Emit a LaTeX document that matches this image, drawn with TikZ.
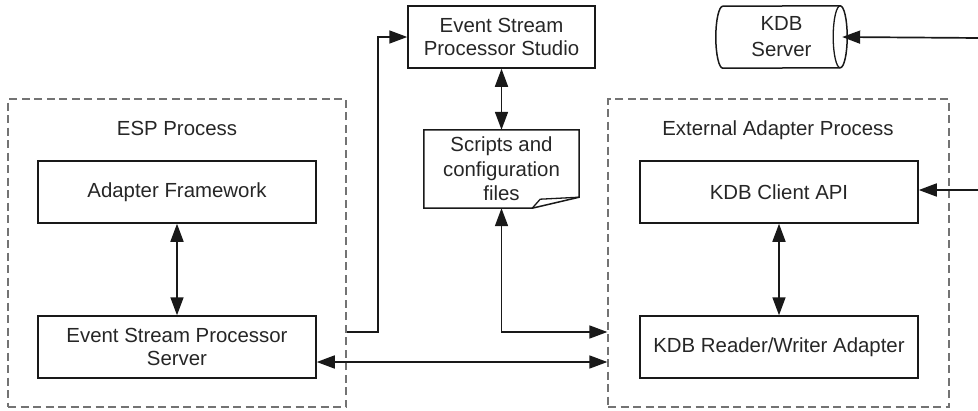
\documentclass[tikz,border=0pt]{standalone}
\usepackage{fontspec}
\setmainfont{Liberation Sans}
\usetikzlibrary{arrows.meta,calc}
\newcommand\diafont{\fontsize{20.4pt}{23.5pt}\selectfont}
\begin{document}
\begin{tikzpicture}[x=1pt,y=-1pt,
  line join=miter,
  box/.style={draw=black!90, line width=1.5pt, minimum width=278pt, minimum height=62pt,
    inner sep=0pt, align=center, font=\diafont, text=black!85},
  grp/.style={draw=black!55, dash pattern=on 8pt off 4.5pt, line width=1.3pt, inner sep=0pt},
  lbl/.style={font=\diafont, text=black!85, inner sep=0pt},
  conn/.style={draw=black!90, line width=1.7pt},
  both/.style={conn, {Triangle[length=18pt,width=13pt]}-{Triangle[length=18pt,width=13pt]}},
  fwd/.style={conn, -{Triangle[length=18pt,width=13pt]}}
]
\useasboundingbox (0,0) rectangle (978,410);

% groups
\node[grp, minimum width=338pt, minimum height=308pt] (esp) at (177,253) {};
\node[grp, minimum width=341pt, minimum height=308pt] (ext) at (778.5,253) {};
\node[lbl, anchor=base] (esplbl) at (177,135) {ESP Process};
\node[lbl, anchor=base] (extlbl) at (778,135) {External Adapter Process};

% boxes
\node[box] (af) at (177,192) {Adapter Framework};
\node[box] (esps) at (177,347) {Event Stream Processor\\Server};
\node[box] (kca) at (779,192) {KDB Client API};
\node[box] (kdbrw) at (779,347) {KDB Reader/Writer Adapter};
\node[box, minimum width=187pt] (studio) at (501.5,37) {Event Stream\\Processor Studio};

% document shape
\node[lbl, minimum width=155pt, minimum height=78pt, align=center,
  font=\fontsize{20.4pt}{24.5pt}\selectfont] (scripts) at (501.5,169) {Scripts and\\configuration\\files};
\draw[line width=1.5pt, draw=black!90]
  (scripts.south west) -- (scripts.north west) -- (scripts.north east)
  -- ([yshift=11pt]scripts.south east) -- ([xshift=-47pt]scripts.south east) -- cycle;
\draw[line width=1.3pt, draw=black!90]
  ([xshift=-47pt]scripts.south east) -- ([xshift=-39pt,yshift=9pt]scripts.south east)
  -- ([yshift=11pt]scripts.south east);

% cylinder
\node[lbl, minimum width=131pt, minimum height=62pt, align=center,
  font=\fontsize{20.4pt}{26pt}\selectfont] (kdb) at (781.5,37) {KDB\\Server};
\draw[line width=1.5pt, draw=black!90]
  ([xshift=7pt]kdb.south west) arc[start angle=270, end angle=90, x radius=7pt, y radius=31pt]
  -- ([xshift=-7pt]kdb.north east) arc[start angle=90, end angle=-90, x radius=7pt, y radius=31pt]
  -- cycle;
\draw[line width=1.3pt, draw=black!90]
  ([xshift=-7pt]kdb.north east) arc[start angle=90, end angle=270, x radius=7pt, y radius=31pt];

% connectors
\draw[both] (af.south) -- (esps.north);
\draw[both] (kca.south) -- (kdbrw.north);
\draw[both] (studio.south) -- (scripts.north);
\coordinate (j1) at (378,332);
\draw[fwd] (esp.east |- j1) -- (j1) |- (studio.west);
\coordinate (j2) at (501.5,332);
\draw[both] (scripts.south) -- (j2) -- (ext.west |- j2);
\coordinate (j3) at (340,362);
\draw[both] (esps.east |- j3) -- (ext.west |- j3);
\coordinate (r1) at (980,38);
\draw[fwd] (r1) -- ([xshift=-5pt]kdb.east);
\coordinate (r2) at (980,190);
\draw[fwd] (r2) -- (kca.east |- r2);
\end{tikzpicture}
\end{document}
